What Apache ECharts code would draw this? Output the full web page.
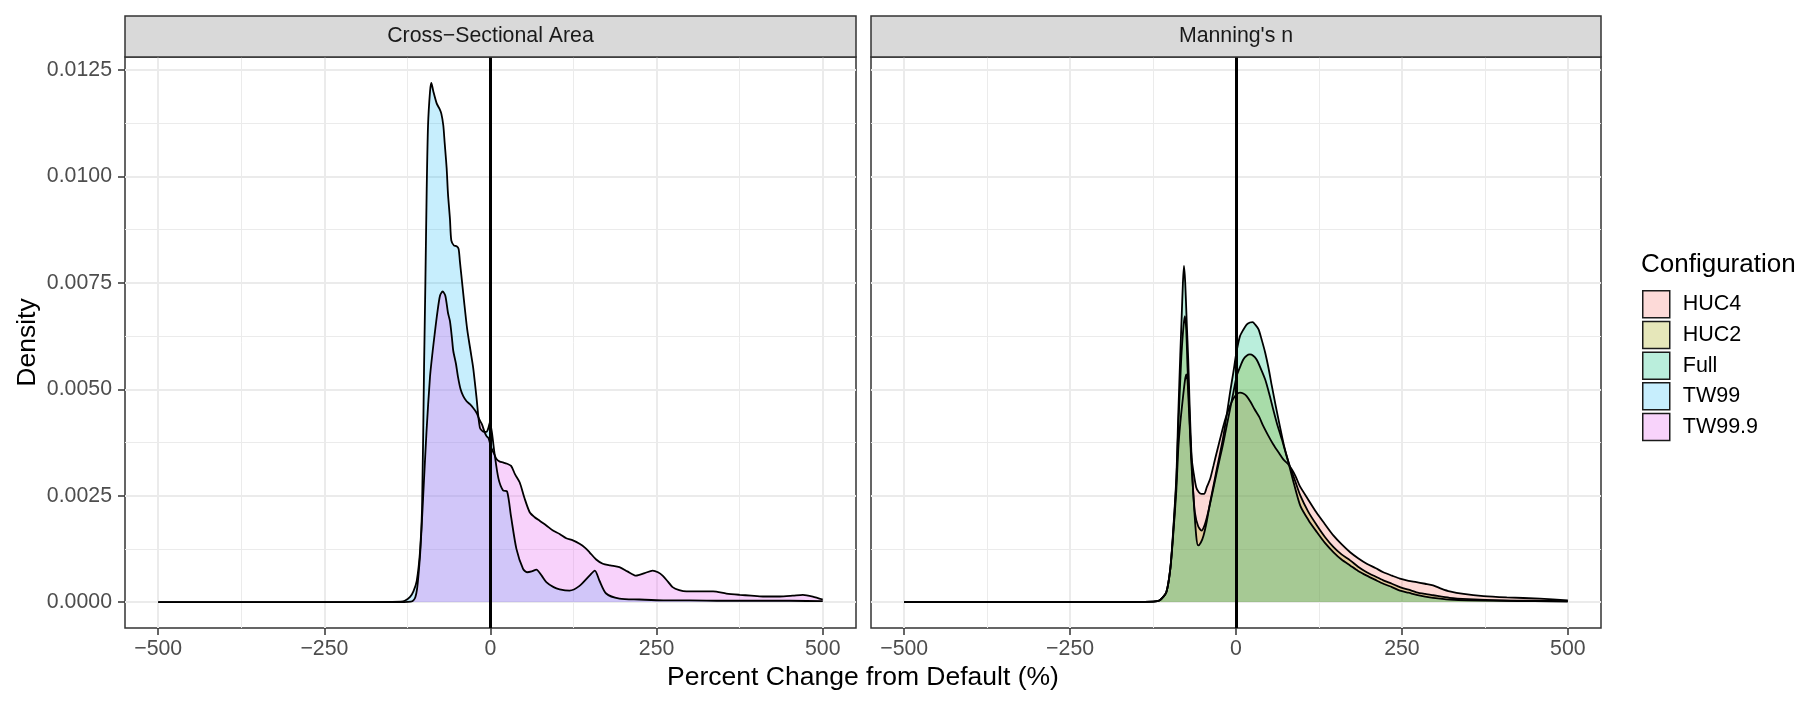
<!DOCTYPE html>
<html><head><meta charset="utf-8">
<script src="https://cdn.jsdelivr.net/npm/echarts@6/dist/echarts.min.js"></script>
<style>html,body{margin:0;padding:0;background:#fff}#c{width:1814px;height:709px}</style>
</head><body><div id="c"></div>
<script>
// ---------- data ----------
const xTicks = [-500, -250, 0, 250, 500];
const xMinor = [-375, -125, 125, 375];
const yTicks = [0, 0.0025, 0.005, 0.0075, 0.01, 0.0125];
const yMinor = [0.00125, 0.00375, 0.00625, 0.00875, 0.01125];
const panelTitles = ['Cross\u2212Sectional Area', "Manning's n"];
const configs = ['HUC4', 'HUC2', 'Full', 'TW99', 'TW99.9'];
const hueColors = ['#F8766D', '#A3A500', '#00BF7D', '#00B0F6', '#E76BF3'];
const refLine = 0;

// Cross-Sectional Area panel
const tw99_x = [-500,-200,-135,-129,-121,-116,-111,-106,-103,-100,-98,-96,-94,-91,-89,-86,-81,-77,-74,-71,-69,-66,-64,-61,-59,-55,-51,-48,-46,-44,-40,-35,-30,-26,-21,-16,-10,-6,-3,-1,2,6,12,19,25,31,39,49,55,62,69,77,84,95,104,119,134,149,157,164,174,194,224,260,300,350,400,450,500];
const tw99_y = [0,0,0.00001,0.00003,0.00012,0.00025,0.0005,0.0012,0.0022,0.0055,0.0075,0.0097,0.0112,0.0120,0.0122,0.0120,0.01172,0.0116,0.01148,0.0112,0.0108,0.0102,0.0096,0.0090,0.0085,0.00838,0.00836,0.0083,0.0080,0.0077,0.0071,0.0064,0.0059,0.0055,0.0048,0.0041,0.0040,0.0040,0.0041,0.00422,0.0040,0.0035,0.0029,0.00262,0.0026,0.0020,0.00125,0.00078,0.0007,0.00072,0.00076,0.00062,0.00047,0.00035,0.0003,0.00027,0.00038,0.00062,0.00074,0.0005,0.0002,0.00008,0.00006,0.00004,0.00004,0.00003,0.00003,0.00003,0.00002];

const tw999_x = [-500,-200,-130,-120,-116,-113,-110.5,-108,-105.4,-101.5,-96.4,-91,-87,-84,-80,-76,-72,-68,-64,-61,-58,-56,-52,-49,-45,-41,-36,-31,-26,-21,-17,-13,-9,-6,-3,1,5,9,14,19,25,31,37,44,51,59,66,74,84,94,104,114,124,134,142,149,159,169,180,194,206,219,232,244,252,259,267,274,284,295,315,335,355,375,392,410,435,455,470,485,500];
const tw999_y = [0,0,0,0.00001,0.00004,0.00012,0.00031,0.0007,0.00125,0.00242,0.00398,0.0053,0.0059,0.0063,0.0068,0.0072,0.0073,0.0072,0.0068,0.0066,0.0062,0.0059,0.0056,0.0053,0.0050,0.00484,0.00472,0.00465,0.00456,0.00445,0.0043,0.00418,0.0040,0.0039,0.00385,0.00363,0.0035,0.00336,0.0033,0.00328,0.00325,0.0032,0.0030,0.00281,0.00245,0.00211,0.0020,0.00191,0.0018,0.00168,0.0016,0.0015,0.00145,0.00137,0.00128,0.00117,0.0010,0.0009,0.00086,0.00082,0.00072,0.00062,0.00068,0.00074,0.0007,0.00062,0.00048,0.00035,0.00028,0.00025,0.00025,0.00025,0.0002,0.00017,0.00015,0.00013,0.00013,0.00015,0.00017,0.00013,0.00006];

// Manning's n panel
const huc4_x = [-500,-200,-125,-115,-105,-99,-95,-90,-87,-84,-80,-77,-75,-73,-70,-67,-64,-60,-56,-52,-48,-44,-39,-34,-29,-24,-19,-14,-9,-4,1,6,11,16,22,28,35,41,48,56,64,71,78,84,90,96,108,121,134,147,159,172,184,197,210,222,235,247,260,272,285,297,310,322,343,373,408,458,500];
const huc4_y = [0,0,0.00001,0.00004,0.00023,0.00078,0.0015,0.0026,0.0036,0.0042,0.0048,0.0052,0.00535,0.0052,0.0042,0.0034,0.00305,0.0027,0.00258,0.00254,0.00254,0.0027,0.00289,0.0032,0.00352,0.00383,0.00414,0.0044,0.00461,0.00478,0.00488,0.00492,0.0049,0.00484,0.0047,0.00453,0.00435,0.00414,0.00393,0.00371,0.00352,0.00336,0.00325,0.00312,0.00295,0.00273,0.00243,0.00211,0.00183,0.00156,0.00136,0.00117,0.00103,0.0009,0.0008,0.0007,0.00062,0.00055,0.0005,0.00047,0.00043,0.00039,0.00031,0.00025,0.00019,0.00014,0.00011,0.00008,0.00004];

const huc2_x = [-500,-200,-125,-115,-105,-99,-95,-90,-87,-84,-82,-79,-77,-75,-73,-70,-68,-65,-62,-57,-52,-47,-42,-35,-29,-24,-19,-14,-9,-4,1,6,11,16,21,26,31,37,44,50,56,62,69,75,81,89,97,109,122,134,147,159,172,184,197,210,222,235,247,260,272,285,297,322,350,400,450,500];
const huc2_y = [0,0,0.00001,0.00004,0.00023,0.00078,0.00155,0.0028,0.0041,0.0052,0.00586,0.0065,0.00672,0.0064,0.0055,0.0044,0.0035,0.0027,0.00211,0.00178,0.00168,0.00182,0.00211,0.0026,0.00305,0.0034,0.00375,0.00414,0.00453,0.00492,0.00531,0.00552,0.0057,0.00579,0.00582,0.00579,0.0057,0.0055,0.00523,0.0049,0.00453,0.00418,0.00383,0.0035,0.0032,0.00285,0.0025,0.00212,0.0018,0.00153,0.00129,0.00112,0.00098,0.00083,0.0007,0.0006,0.00051,0.00043,0.00035,0.00029,0.00023,0.00019,0.00016,0.0001,0.00007,0.00004,0.00003,0.00002];

const full_x = [-500,-200,-125,-115,-105,-99,-95,-90,-87,-84,-82,-80,-78.4,-76.5,-74.4,-72,-70,-68,-65,-60,-57,-53,-49,-44,-39,-34,-29,-24,-19,-14,-9,-4,1,6,11,16,21,25,29,34,39,44,49,54,60,66,72,79,87,97,109,122,134,147,159,172,184,197,210,222,235,247,260,272,285,297,322,350,400,450,500];
const full_y = [0,0,0.00001,0.00004,0.00023,0.00078,0.0016,0.0029,0.0044,0.0058,0.00664,0.0075,0.0079,0.0075,0.00664,0.0057,0.00469,0.0038,0.00273,0.00156,0.00133,0.0014,0.00156,0.0019,0.00234,0.00273,0.00312,0.0035,0.0039,0.0044,0.00492,0.0054,0.0059,0.00625,0.0064,0.00652,0.00657,0.00658,0.00652,0.00641,0.00615,0.00586,0.0055,0.00508,0.0046,0.00414,0.0037,0.00328,0.0028,0.00226,0.00193,0.00164,0.00139,0.00117,0.001,0.00086,0.00073,0.00062,0.00052,0.00043,0.00035,0.00027,0.00022,0.00017,0.00013,0.0001,0.00006,0.00004,0.00003,0.00002,0.00001];

// ---------- helpers ----------
const fillAlpha = [0.27, 0.27, 0.27, 0.22, 0.3];
function hexToRgb(h){ return [parseInt(h.slice(1,3),16),parseInt(h.slice(3,5),16),parseInt(h.slice(5,7),16)]; }
function blended(h, a){ const c = hexToRgb(h).map(v => Math.round(255 - a*(255 - v))); return 'rgb(' + c.join(',') + ')'; }
function fillRgba(h, a){ const c = hexToRgb(h); return 'rgba(' + c.join(',') + ',' + a + ')'; }
function pairs(xs, ys){ return xs.map((x, i) => [x, ys[i]]); }
function fmtX(v){ return v < 0 ? '\u2212' + Math.abs(v) : String(v); }

const FONT = '"Liberation Sans", Arial, Helvetica, sans-serif';
const G = [{left:125, top:57, width:731, height:571}, {left:871, top:57, width:730, height:571}];
const X_MIN = -550, X_MAX = 550, Y_MIN = -0.00061, Y_MAX = 0.01281;

function xAxes(gi){
  return [
    {gridIndex: gi, type:'value', min:X_MIN, max:X_MAX, position:'bottom',
     axisLine:{show:false, onZero:false},
     axisTick:{show:true, length:7, customValues:xTicks, lineStyle:{color:'#333333', width:1.5}},
     axisLabel:{show:true, customValues:xTicks, formatter:fmtX, fontSize:21.3, color:'#4D4D4D', margin:11, fontFamily:FONT},
     splitLine:{show:true, lineStyle:{color:'#EBEBEB', width:2}}},
    {gridIndex: gi, type:'value', min:X_MIN, max:X_MAX, position:'bottom',
     axisLine:{show:false, onZero:false},
     axisTick:{show:false, customValues:xMinor},
     axisLabel:{show:false},
     splitLine:{show:true, lineStyle:{color:'#EBEBEB', width:1}}}
  ];
}
function yAxes(gi, showLabels){
  return [
    {gridIndex: gi, type:'value', min:Y_MIN, max:Y_MAX, position:'left',
     axisLine:{show:false, onZero:false},
     axisTick:{show:showLabels, length:7, customValues:yTicks, lineStyle:{color:'#333333', width:1.5}},
     axisLabel:{show:showLabels, customValues:yTicks, formatter: v => v.toFixed(4), fontSize:21.3, color:'#4D4D4D', margin:13, fontFamily:FONT},
     splitLine:{show:true, lineStyle:{color:'#EBEBEB', width:2}}},
    {gridIndex: gi, type:'value', min:Y_MIN, max:Y_MAX, position:'left',
     axisLine:{show:false, onZero:false},
     axisTick:{show:false, customValues:yMinor},
     axisLabel:{show:false},
     splitLine:{show:true, lineStyle:{color:'#EBEBEB', width:1}}}
  ];
}

function densitySeries(name, xs, ys, gi, withVline){
  const ci = configs.indexOf(name);
  const a = fillAlpha[ci];
  const s = {
    name: name, type:'line', xAxisIndex: gi*2, yAxisIndex: gi*2,
    data: pairs(xs, ys), showSymbol:false, symbol:'none', smooth:0.25,
    color: blended(hueColors[ci], a),
    lineStyle:{color:'#000000', width:1.8},
    areaStyle:{color: fillRgba(hueColors[ci], a), opacity:1, origin:0},
    emphasis:{disabled:true}, silent:true, clip:true
  };
  if (withVline) {
    s.markLine = {silent:true, symbol:['none','none'], label:{show:false}, animation:false,
      lineStyle:{color:'#000000', width:3, type:'solid'}, emphasis:{disabled:true},
      data:[{xAxis: refLine}]};
  }
  return s;
}

const graphics = [];
G.forEach((g, i) => {
  graphics.push({type:'rect', shape:{x:g.left, y:16, width:g.width, height:41}, style:{fill:'#D9D9D9', stroke:'#333333', lineWidth:1.5}, z:10});
  graphics.push({type:'text', x:g.left + g.width/2, y:36.5, style:{text:panelTitles[i], fill:'#1A1A1A', font:'21.3px ' + FONT, textAlign:'center', textVerticalAlign:'middle'}, z:11});
});
graphics.push({type:'text', x:863, y:678, style:{text:'Percent Change from Default (%)', fill:'#000', font:'26.5px ' + FONT, textAlign:'center', textVerticalAlign:'middle'}});
graphics.push({type:'text', x:27.5, y:342.5, rotation:Math.PI/2, style:{text:'Density', fill:'#000', font:'26.5px ' + FONT, textAlign:'center', textVerticalAlign:'middle'}});
graphics.push({type:'text', x:1641, y:265, style:{text:'Configuration', fill:'#000', font:'26px ' + FONT, textAlign:'left', textVerticalAlign:'middle'}});

const option = {
  animation:false,
  backgroundColor:'#ffffff',
  textStyle:{fontFamily:FONT},
  grid: G.map(g => Object.assign({show:true, borderColor:'#333333', borderWidth:1.5, backgroundColor:'transparent', containLabel:false, outerBoundsMode:'none'}, g)),
  xAxis: xAxes(0).concat(xAxes(1)),
  yAxis: yAxes(0, true).concat(yAxes(1, false)),
  legend: {
    orient:'vertical', left:1642, top:290, padding:0,
    itemWidth:27, itemHeight:27, itemGap:2.2, icon:'rect',
    selectedMode:false,
    itemStyle:{borderColor:'#1A1A1A', borderWidth:1.5},
    textStyle:{fontSize:21.5, color:'#000', fontFamily:FONT, lineHeight:27, padding:[0,0,0,8]},
    data: configs
  },
  series: [
    densitySeries('TW99', tw99_x, tw99_y, 0, false),
    densitySeries('TW99.9', tw999_x, tw999_y, 0, true),
    densitySeries('HUC4', huc4_x, huc4_y, 1, false),
    densitySeries('HUC2', huc2_x, huc2_y, 1, false),
    densitySeries('Full', full_x, full_y, 1, true)
  ],
  graphic: graphics
};
const chart = echarts.init(document.getElementById('c'), null, {renderer:'canvas'});
chart.setOption(option);
</script></body></html>
